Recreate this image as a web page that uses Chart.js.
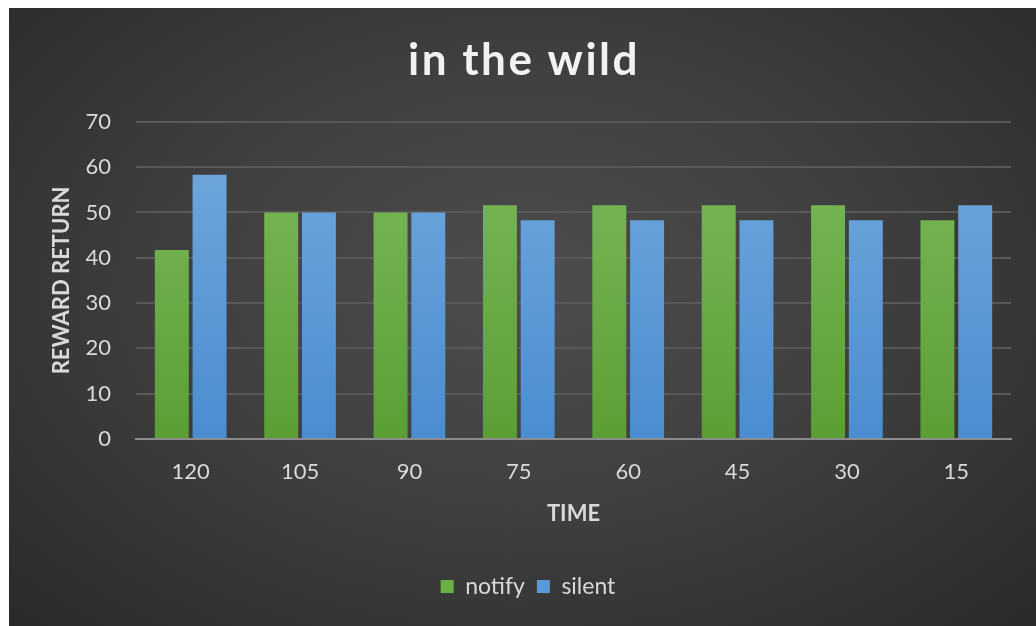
<!DOCTYPE html>
<html>
<head>
<meta charset="utf-8">
<script src="https://cdn.jsdelivr.net/npm/chart.js@4"></script>
<style>
  body { margin: 0; background: #fff; }
  #wrap {
    position: absolute; left: 9px; top: 8px; width: 1027px; height: 618px;
    background: radial-gradient(ellipse at 50% 45%, #4d4d4d 0%, #404040 45%, #2a2a2a 100%);
  }
</style>
</head>
<body>
<div id="wrap"><canvas id="chart" width="1027" height="618"></canvas></div>
<script>
const timeLabels = ["120", "105", "90", "75", "60", "45", "30", "15"];
const notifyValues = [41.7, 50, 50, 51.6, 51.6, 51.6, 51.6, 48.3];
const silentValues = [58.3, 50, 50, 48.3, 48.3, 48.3, 48.3, 51.6];

function barGradient(top, bottom) {
    return (ctx) => {
        const area = ctx.chart.chartArea;
        if (!area) return bottom;
        const g = ctx.chart.ctx.createLinearGradient(0, area.top, 0, area.bottom);
        g.addColorStop(0, top);
        g.addColorStop(1, bottom);
        return g;
    };
}

// title in the original is letter-spaced and centred on the whole panel
const spacedTitle = {
    id: "spacedTitle",
    afterInit(chart) {
        const tb = chart.titleBlock;
        if (!tb) return;
        const orig = tb.draw.bind(tb);
        tb.draw = function () {
            const c = this.ctx;
            c.save();
            c.letterSpacing = "2.5px";
            c.translate(-4, 0);
            orig();
            c.restore();
        };
    }
};

const fontFamily = "Lato, 'Open Sans', sans-serif";
const textColor = "#d9d9d9";

new Chart(document.getElementById("chart"), {
    type: "bar",
    data: {
        labels: timeLabels,
        datasets: [
            { label: "notify", data: notifyValues, backgroundColor: barGradient("#7dba5d", "#5a9f34") },
            { label: "silent", data: silentValues, backgroundColor: barGradient("#74a9de", "#4a8dd0") }
        ]
    },
    plugins: [spacedTitle],
    options: {
        responsive: false,
        animation: false,
        categoryPercentage: 0.69,
        barPercentage: 0.9,
        layout: { padding: { left: 36, right: 25, top: 0, bottom: 18 } },
        plugins: {
            title: {
                display: true,
                text: "in the wild",
                color: "#f2f2f2",
                font: { family: fontFamily, size: 44, weight: "bold" },
                padding: { top: 26, bottom: 35 }
            },
            legend: {
                position: "bottom",
                labels: {
                    color: textColor,
                    boxWidth: 13,
                    boxHeight: 13,
                    padding: 12,
                    font: { family: fontFamily, size: 23 },
                    generateLabels: (chart) => chart.data.datasets.map((ds, i) => ({
                        text: ds.label,
                        fillStyle: i === 0 ? "#6aae45" : "#5b9ad6",
                        strokeStyle: "transparent",
                        lineWidth: 0,
                        fontColor: textColor,
                        datasetIndex: i
                    }))
                }
            },
            tooltip: { enabled: false }
        },
        scales: {
            x: {
                afterFit: (scale) => { scale.height = 124; },
                grid: { display: false, drawTicks: false },
                border: { color: "#8c8c8c", width: 2 },
                ticks: { color: textColor, font: { family: fontFamily, size: 22 }, padding: 20 },
                title: {
                    display: true, text: "TIME", color: textColor,
                    font: { family: fontFamily, size: 22, weight: "bold" },
                    padding: { top: 10, bottom: 35.5 }
                }
            },
            y: {
                min: 0, max: 70,
                afterFit: (scale) => { scale.width = 91; },
                ticks: { stepSize: 10, color: textColor, font: { family: fontFamily, size: 22 }, padding: 25 },
                grid: { color: "#585858", lineWidth: 2, drawTicks: false },
                border: { display: false },
                title: {
                    display: true, text: "REWARD RETURN", color: textColor,
                    font: { family: fontFamily, size: 22, weight: "bold" },
                    padding: { top: 4, bottom: 10 }
                }
            }
        }
    }
});
</script>
</body>
</html>
